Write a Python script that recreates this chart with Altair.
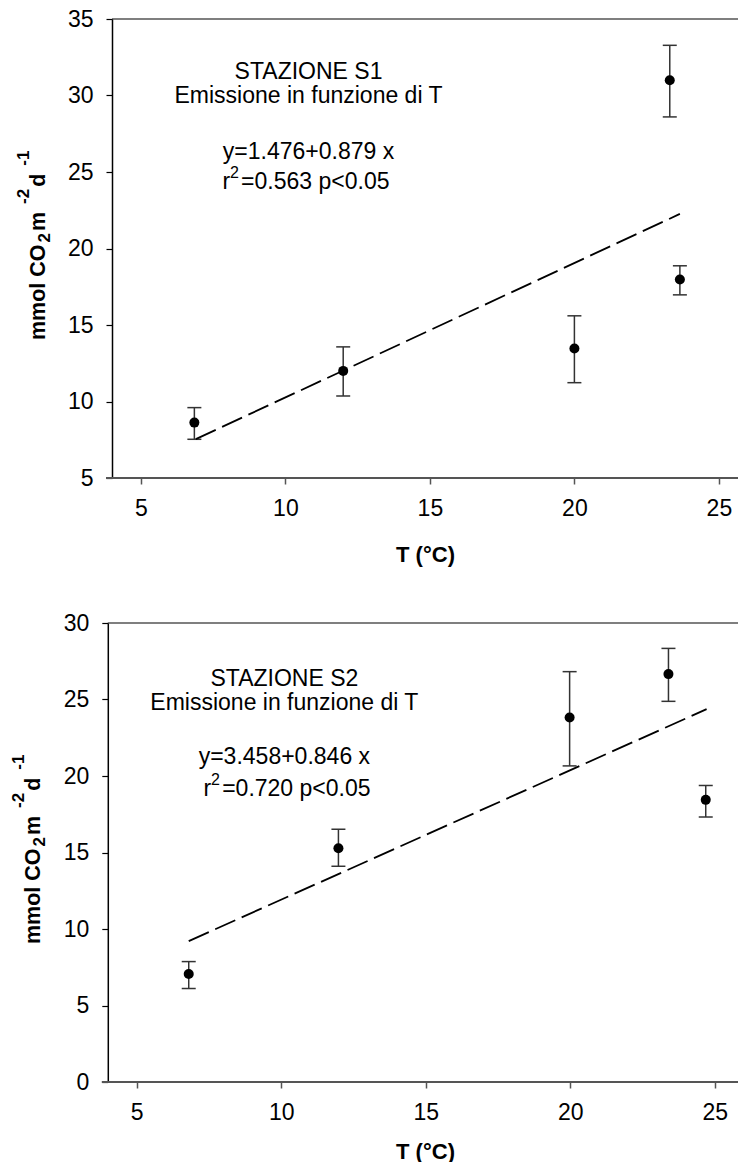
import altair as alt
import pandas as pd

FONT = "Liberation Sans"

# ---------------- data ----------------
# Stazione S1
s1_T = [6.85, 12.0, 20.0, 23.3, 23.65]
s1_E = [8.62, 12.0, 13.46, 31.0, 17.97]
s1_lo = [7.53, 10.36, 11.23, 28.6, 16.97]
s1_hi = [9.6, 13.57, 15.6, 33.28, 18.87]
s1_fit_T = [6.9, 23.65]
s1_fit_E = [7.54, 22.26]
s1_yticks = [5, 10, 15, 20, 25, 30, 35]
s1_text = ["STAZIONE S1", "Emissione in funzione di T", "y=1.476+0.879 x", "r", "2", "=0.563 p<0.05"]

# Stazione S2
s2_T = [6.8, 11.98, 19.98, 23.4, 24.69]
s2_E = [7.06, 15.28, 23.82, 26.66, 18.44]
s2_lo = [6.11, 14.1, 20.66, 24.88, 17.32]
s2_hi = [7.87, 16.52, 26.82, 28.34, 19.38]
s2_fit_T = [6.8, 24.72]
s2_fit_E = [9.21, 24.37]
s2_yticks = [0, 5, 10, 15, 20, 25, 30]
s2_text = ["STAZIONE S2", "Emissione in funzione di T", "y=3.458+0.846 x", "r", "2", "=0.720 p<0.05"]

x_ticks = [5, 10, 15, 20, 25]
x_title = "T (°C)"
# y title pieces: (text, kind) kind: n = normal, b = subscript, p = superscript
y_title_parts = [("mmol CO", "n"), ("2", "b"), (" m", "n"), ("-2", "p"), (" d", "n"), ("-1", "p")]

W = 626
H = 459

# Arial/Liberation Sans Bold advance widths (em) for laying out the title pieces
BW = {"m": 0.889, "o": 0.611, "l": 0.278, " ": 0.278, "C": 0.722, "O": 0.778,
      "d": 0.611, "-": 0.333, "1": 0.556, "2": 0.556}


def one(text):
    return pd.DataFrame({"t": [text]})


def panel(T, E, lo, hi, fitT, fitE, xdom, ydom, yticks, texts,
          tx, ty, rx, shift, tpad):
    pts = pd.DataFrame({"T": T, "E": E, "lo": lo, "hi": hi})
    xs = alt.Scale(domain=xdom, nice=False, zero=False)
    ys = alt.Scale(domain=ydom, nice=False, zero=False)
    xaxis = alt.Axis(values=x_ticks, title=x_title, domain=False,
                     tickColor="#555555", tickWidth=1.5, tickSize=6,
                     labelPadding=13, titlePadding=tpad, grid=False)
    yaxis = alt.Axis(values=yticks, title=None, domain=True, offset=shift,
                     domainColor="black", domainWidth=1.5,
                     tickColor="black", tickWidth=1.2, tickSize=6,
                     labelPadding=13, grid=False)
    base = alt.Chart(pts)
    bars = base.mark_rule(color="#333333", strokeWidth=1.5).encode(
        x=alt.X("T:Q", scale=xs, axis=xaxis),
        y=alt.Y("lo:Q", scale=ys, axis=yaxis),
        y2="hi:Q",
    )
    cap_lo = base.mark_tick(orient="horizontal", size=14, thickness=1.5,
                            color="#333333", opacity=1).encode(x="T:Q", y="lo:Q")
    cap_hi = base.mark_tick(orient="horizontal", size=14, thickness=1.5,
                            color="#333333", opacity=1).encode(x="T:Q", y="hi:Q")
    dots = base.mark_circle(size=100, color="black", opacity=1).encode(
        x="T:Q", y="E:Q")
    fit = alt.Chart(pd.DataFrame({"T": fitT, "E": fitE})).mark_line(
        color="black", strokeWidth=1.8, strokeDash=[22, 7]).encode(
        x="T:Q", y="E:Q")

    # frame lines (top border and bottom axis line)
    top_line = alt.Chart(one("")).mark_rule(color="black", strokeWidth=1.2).encode(
        x=alt.value(-shift), x2=alt.value(W), y=alt.value(0))
    bot_line = alt.Chart(one("")).mark_rule(color="#555555", strokeWidth=2).encode(
        x=alt.value(-shift - 6), x2=alt.value(W), y=alt.value(H))

    layers = [bars, cap_lo, cap_hi, fit, dots, top_line, bot_line]
    # annotations in data coordinates
    for txt, yy in zip(texts[:3], ty[:3]):
        d = pd.DataFrame({"x": [tx], "y": [yy], "t": [txt]})
        layers.append(alt.Chart(d).mark_text(
            font=FONT, fontSize=23, align="center", baseline="alphabetic",
            color="black").encode(x="x:Q", y="y:Q", text="t:N"))
    # r^2 line
    d = pd.DataFrame({"x": [rx], "y": [ty[3]], "t": [texts[3]]})
    layers.append(alt.Chart(d).mark_text(
        font=FONT, fontSize=23, align="left", baseline="alphabetic",
        color="black").encode(x="x:Q", y="y:Q", text="t:N"))
    d = pd.DataFrame({"x": [rx], "y": [ty[3]], "t": [texts[4]]})
    layers.append(alt.Chart(d).mark_text(
        font=FONT, fontSize=16, align="left", baseline="alphabetic",
        dx=7.5, dy=-11, color="black").encode(x="x:Q", y="y:Q", text="t:N"))
    d = pd.DataFrame({"x": [rx], "y": [ty[3]], "t": [texts[5]]})
    layers.append(alt.Chart(d).mark_text(
        font=FONT, fontSize=23, align="left", baseline="alphabetic",
        dx=18.7, color="black").encode(x="x:Q", y="y:Q", text="t:N"))

    # y axis title built from pieces (sub/superscripts), reading upward
    bx = -67.5 - shift
    pos = 321.0
    gap = 2.0
    for s, kind in y_title_parts:
        fs = 21.5 if kind == "n" else 17
        px = bx + (5 if kind == "b" else (-16 if kind == "p" else 0))
        layers.append(alt.Chart(one(s)).mark_text(
            x=px, y=pos, angle=270, align="left", baseline="alphabetic",
            font=FONT, fontSize=fs, fontWeight="bold", color="black").encode(
            text="t:N"))
        pos -= sum(BW[c] for c in s) * fs + gap

    return alt.layer(*layers).properties(width=W, height=H)


top = panel(s1_T, s1_E, s1_lo, s1_hi, s1_fit_T, s1_fit_E,
            [4, 4 + W / 28.9], [5, 35], s1_yticks, s1_text,
            10.8, [31.05, 29.5, 25.85, 23.9], 7.82, 0, 24)
bottom = panel(s2_T, s2_E, s2_lo, s2_hi, s2_fit_T, s2_fit_E,
               [4 + 4.2 / 28.9, 4 + 4.2 / 28.9 + W / 28.9], [0, 30], s2_yticks, s2_text,
               10.11, [25.85, 24.3, 20.8, 18.7], 7.31, 4.2, 17)

chart = alt.vconcat(top, bottom, spacing=47).properties(
    padding={"left": 10, "top": 8, "right": 0, "bottom": 0}
).configure_view(stroke=None).configure_axis(
    labelFont=FONT, labelFontSize=23, labelColor="black",
    titleFont=FONT, titleFontSize=22, titleFontWeight="bold", titleColor="black",
)

chart.save("out.html", embed_options={"renderer": "svg", "actions": False})
